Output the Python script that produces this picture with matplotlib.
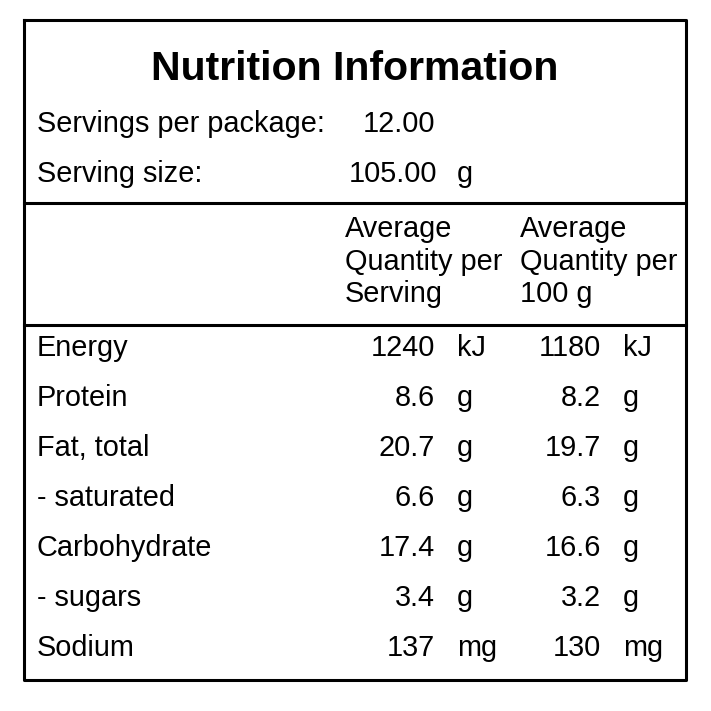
import matplotlib
matplotlib.use("Agg")
import matplotlib.pyplot as plt

title = "Nutrition Information"
servings_per_package = "12.00"
serving_size = "105.00"
serving_unit = "g"
nutrients = ["Energy", "Protein", "Fat, total", "- saturated", "Carbohydrate", "- sugars", "Sodium"]
per_serving = ["1240", "8.6", "20.7", "6.6", "17.4", "3.4", "137"]
per_100g = ["1180", "8.2", "19.7", "6.3", "16.6", "3.2", "130"]
units = ["kJ", "g", "g", "g", "g", "g", "mg"]
header1 = ["Average", "Quantity per", "Serving"]
header2 = ["Average", "Quantity per", "100 g"]

plt.rcParams["font.family"] = "Liberation Sans"
fig = plt.figure(figsize=(7.11, 7.11), dpi=100)
ax = fig.add_axes([0, 0, 1, 1])
ax.set_xlim(0, 711); ax.set_ylim(711, 0); ax.axis("off")

lw = 2.2
ax.plot([24, 686, 686, 24, 24], [20, 20, 680, 680, 20], color="black", lw=lw)
ax.plot([24, 686], [203, 203], color="black", lw=lw)
ax.plot([24, 686], [325, 325], color="black", lw=lw)

fs = 20.8
ax.text(355, 69, title, ha="center", va="center", fontsize=29.5, fontweight="bold")
ax.text(37, 124, "Servings per package:", va="center", fontsize=fs)
ax.text(435, 124, servings_per_package, ha="right", va="center", fontsize=fs)
ax.text(37, 174, "Serving size:", va="center", fontsize=fs)
ax.text(437, 174, serving_size, ha="right", va="center", fontsize=fs)
ax.text(457, 174, serving_unit, va="center", fontsize=fs)

for i, (a, b) in enumerate(zip(header1, header2)):
    y = 229 + i * 32.5
    ax.text(345, y, a, va="center", fontsize=fs)
    ax.text(520, y, b, va="center", fontsize=fs)

for i, n in enumerate(nutrients):
    y = 348 + i * 50
    ax.text(37, y, n, va="center", fontsize=fs)
    ax.text(435, y, per_serving[i], ha="right", va="center", fontsize=fs)
    ax.text(457, y, units[i], va="center", fontsize=fs)
    ax.text(601, y, per_100g[i], ha="right", va="center", fontsize=fs)
    ax.text(623, y, units[i], va="center", fontsize=fs)

fig.savefig("out.png", dpi=100, facecolor="white")
